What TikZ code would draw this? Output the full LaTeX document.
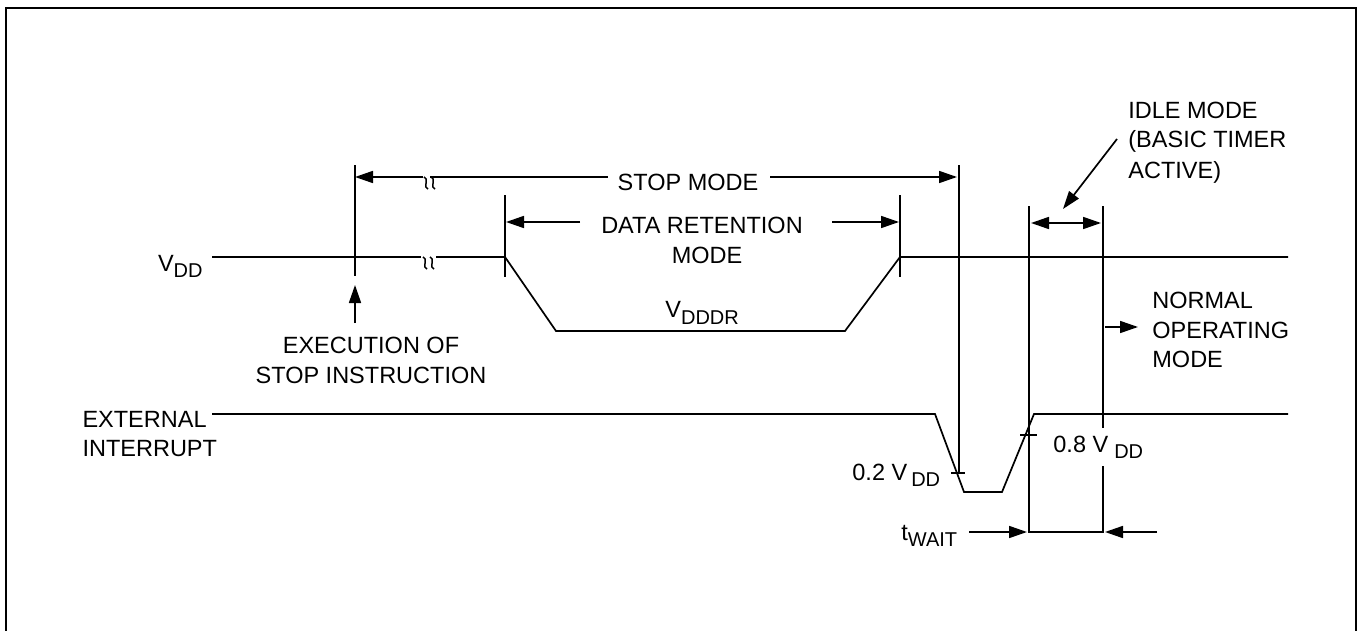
\documentclass[tikz,border=0pt]{standalone}
\usepackage{fontspec}
\setmainfont{Liberation Sans}
\usetikzlibrary{arrows.meta}
\newcommand{\lowsub}[2][3pt]{\raisebox{-#1}{\fontsize{10}{12}\selectfont #2}}

\begin{document}
\begin{tikzpicture}[x=0.5pt,y=-0.5pt,
  sig/.style={line width=0.85pt},
  dim/.style={line width=0.85pt,-{Triangle[length=9pt,width=6pt]}},
  dimboth/.style={line width=0.85pt,{Triangle[length=9pt,width=6pt]}-{Triangle[length=9pt,width=6pt]}},
  lbl/.style={inner sep=0pt,font=\fontsize{11.75}{14}\selectfont},
  brk/.pic={\foreach \dx in {0,7} {\draw[line width=0.75pt] (\dx-2,0) .. controls (\dx+3,0) and (\dx-3,12) .. (\dx+2,12);}}]
\useasboundingbox (0,0) rectangle (1360,631);
\draw[line width=1.1pt] (6,640) -- (6,8) -- (1356,8) -- (1356,640);

% V_DD trace
\coordinate (vdd0) at (212,257);
\coordinate (vddcutA) at (421,257);
\coordinate (vddcutB) at (436,257);
\coordinate (ret0) at (505,257);
\coordinate (ret1) at (556,331);
\coordinate (ret2) at (845,331);
\coordinate (ret3) at (900,257);
\coordinate (vdd1) at (1288,257);
\draw[sig] (vdd0) -- (vddcutA);
\draw[sig] (vddcutB) -- (ret0) -- (ret1) -- (ret2) -- (ret3) -- (vdd1);
\pic at (425,257) {brk};

% external interrupt trace
\coordinate (int0) at (212,414);
\coordinate (int1) at (935,414);
\coordinate (int2) at (964,492);
\coordinate (int3) at (1002,492);
\coordinate (int4) at (1034,414);
\coordinate (int5) at (1288,414);
\draw[sig] (int0) -- (int1) -- (int2) -- (int3) -- (int4) -- (int5);

% marker lines
\coordinate (exeTop) at (355,165);
\coordinate (exeBot) at (355,276);
\coordinate (retLTop) at (505,195);
\coordinate (retLBot) at (505,277);
\coordinate (retRTop) at (900,195);
\coordinate (retRBot) at (900,277);
\coordinate (stopTop) at (959,165);
\coordinate (stopBot) at (959,473);
\coordinate (waitLTop) at (1029,206);
\coordinate (waitLBot) at (1029,533);
\coordinate (waitRTop) at (1103,206);
\coordinate (waitRBot) at (1103,533);
\draw[sig] (exeTop) -- (exeBot);
\draw[sig] (retLTop) -- (retLBot);
\draw[sig] (retRTop) -- (retRBot);
\draw[sig] (stopTop) -- (stopBot);
\draw[sig] (waitLTop) -- (waitLBot);
\draw[sig] (waitRTop) -- (waitRBot);

% level ticks
\coordinate (lowA) at (951,473);
\coordinate (lowB) at (965,473);
\coordinate (highA) at (1020,435);
\coordinate (highB) at (1037,435);
\draw[sig] (lowA) -- (lowB);
\draw[sig] (highA) -- (highB);

% labels
\node[lbl,anchor=base east] (vddLbl) at (203,271) {V\lowsub{DD}};
\node[lbl,anchor=base east] (intLbl) at (207,427) {EXTERNAL};
\node[lbl,anchor=base west] (intLbl2) at ([yshift=-14.5pt]intLbl.base west) {INTERRUPT};
\node[lbl,anchor=base] (stopLbl) at (688,191) {STOP MODE};
\node[lbl,anchor=base] (retLbl) at (702,233) {DATA RETENTION};
\node[lbl,anchor=base] (retLbl2) at (707,263) {MODE};
\node[lbl,anchor=base west] (vdddrLbl) at (665,317) {V\lowsub[3.5pt]{DDDR}};
\node[lbl,anchor=base] (exeLbl) at (371,353) {EXECUTION OF};
\node[lbl,anchor=base] (exeLbl2) at (371,383) {STOP INSTRUCTION};
\node[lbl,anchor=base west] (idleLbl) at (1128,119) {IDLE MODE};
\node[lbl,anchor=base west] (idleLbl2) at (1128,148) {(BASIC TIMER};
\node[lbl,anchor=base west] (idleLbl3) at (1128,178) {ACTIVE)};
\node[lbl,anchor=base west] (normLbl) at (1152,308) {NORMAL};
\node[lbl,anchor=base west] (normLbl2) at (1152,338) {OPERATING};
\node[lbl,anchor=base west] (normLbl3) at (1152,367) {MODE};
\node[lbl,anchor=base west,fill=white,inner ysep=4pt] (highLbl) at (1053,452) {0.8 V\hspace{3pt}\lowsub{DD}};
\node[lbl,anchor=base west] (lowLbl) at (852,480) {0.2 V\hspace{2pt}\lowsub{DD}};
\node[lbl,anchor=base west] (waitLbl) at (901,540) {t\lowsub{WAIT}};

% STOP MODE span
\coordinate (stopA) at (423,177);
\coordinate (stopB) at (430,177);
\coordinate (stopC) at (608,177);
\coordinate (stopD) at (770,177);
\draw[dim] (stopA) -- (exeTop |- stopA);
\draw[sig] (stopB) -- (stopC);
\draw[dim] (stopD) -- ([xshift=-1pt]stopTop |- stopD);
\pic at (426,177) {brk};

% DATA RETENTION span
\coordinate (retA) at (580,222);
\coordinate (retB) at (832,222);
\draw[dim] (retA) -- ([xshift=0.5pt]retLTop |- retA);
\draw[dim] (retB) -- ([xshift=-0.5pt]retRTop |- retB);

% idle mode
\coordinate (idleA) at (1117,139);
\coordinate (idleB) at (1063,209);
\draw[dim] (idleA) -- (idleB);
\draw[dimboth] ([xshift=1pt]waitLTop |- 0,223) -- ([xshift=-1pt]waitRTop |- 0,223);

% normal operating mode
\coordinate (normA) at (1105,327);
\coordinate (normB) at (1138,327);
\draw[dim] (normA) -- (normB);

% stop instruction
\coordinate (exeA) at (355,323);
\coordinate (exeB) at (355,285);
\draw[dim] (exeA) -- (exeB);

% t_WAIT
\coordinate (waitA) at (969,532);
\coordinate (waitB) at (1157,532);
\draw[sig] (waitLBot |- waitA) -- (waitRBot |- waitA);
\draw[dim] (waitA) -- ([xshift=-1pt]waitLBot |- waitA);
\draw[dim] (waitB) -- ([xshift=1pt]waitRBot |- waitB);
\end{tikzpicture}
\end{document}
